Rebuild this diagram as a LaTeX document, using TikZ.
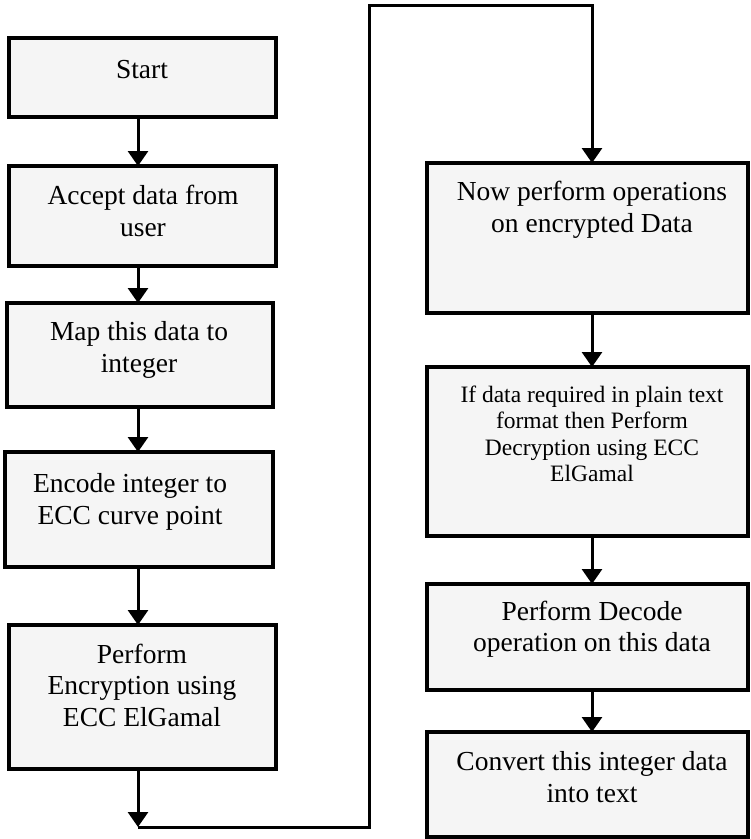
\documentclass[tikz,border=0pt]{standalone}
\usepackage{fontspec}
\setmainfont{Liberation Serif}
\usetikzlibrary{arrows.meta}
\definecolor{boxfill}{HTML}{F5F5F5}
\tikzset{
  stepbox/.style={draw=black, line width=3.2pt, fill=boxfill, inner sep=0pt, outer sep=0pt},
  txt/.style={align=center, font=\fontsize{27.5}{31.5}\selectfont, inner sep=0pt},
  smalltxt/.style={align=center, font=\fontsize{23.5}{26.5}\selectfont, inner sep=0pt},
  arr/.style={line width=3pt, -{Triangle[width=20pt,length=15pt]}}
}
\begin{document}
\begin{tikzpicture}[x=1pt,y=-1pt]
\useasboundingbox (0,0) rectangle (751,839);
\begin{scope}
\clip (0,0) rectangle (751,839);
% left column boxes
\node[stepbox, minimum width=267pt, minimum height=79pt] (start) at (142.5,77.5) {};
\node[stepbox, minimum width=267pt, minimum height=100pt] (accept) at (142.5,216) {};
\node[stepbox, minimum width=266pt, minimum height=104pt] (map) at (140,355) {};
\node[stepbox, minimum width=268pt, minimum height=115pt] (encode) at (139,509.5) {};
\node[stepbox, minimum width=267pt, minimum height=144pt] (encr) at (142.5,697) {};
% right column boxes
\node[stepbox, minimum width=321pt, minimum height=150pt] (now) at (587.5,238) {};
\node[stepbox, minimum width=321pt, minimum height=169pt] (ifd) at (587.5,451.5) {};
\node[stepbox, minimum width=321pt, minimum height=106pt] (decode) at (587.5,637) {};
\node[stepbox, minimum width=321pt, minimum height=105pt] (convert) at (587.5,784.5) {};
\end{scope}
% texts
\node[txt] (tstart) at (142,70) {Start};
\node[txt] (taccept) at (143,211) {Accept data from\\user};
\node[txt] (tmap) at (139,350) {Map this data to\\integer};
\node[txt] (tencode) at (130,502) {Encode integer to\\ECC curve point};
\node[txt] (tencr) at (142,685) {Perform\\Encryption using\\ECC ElGamal};
\node[txt] (tnow) at (592,210) {Now perform operations\\on encrypted Data};
\node[smalltxt] (tifd) at (592,434) {If data required in plain text\\format then Perform\\Decryption using ECC\\ElGamal};
\node[txt] (tdecode) at (592,629) {Perform Decode\\operation on this data};
\node[txt] (tconvert) at (592,777) {Convert this integer data\\into text};
% connector helper coordinates
\coordinate (lx) at (138,0);
\coordinate (rx) at (592,0);
\coordinate (c1) at (138,827);
\coordinate (c2) at (369,827);
\coordinate (c3) at (369,5);
\coordinate (c4) at (592,5);
% arrows
\draw[arr] (start.south -| lx) -- (accept.north -| lx);
\draw[arr] (accept.south -| lx) -- (map.north -| lx);
\draw[arr] (map.south -| lx) -- (encode.north -| lx);
\draw[arr] (encode.south -| lx) -- (encr.north -| lx);
\draw[arr] (encr.south -| lx) -- (c1);
\draw[arr] (c1) -- (c2) -- (c3) -- (c4) -- (now.north -| rx);
\draw[arr] (now.south -| rx) -- (ifd.north -| rx);
\draw[arr] (ifd.south -| rx) -- (decode.north -| rx);
\draw[arr] (decode.south -| rx) -- (convert.north -| rx);
\end{tikzpicture}
\end{document}
